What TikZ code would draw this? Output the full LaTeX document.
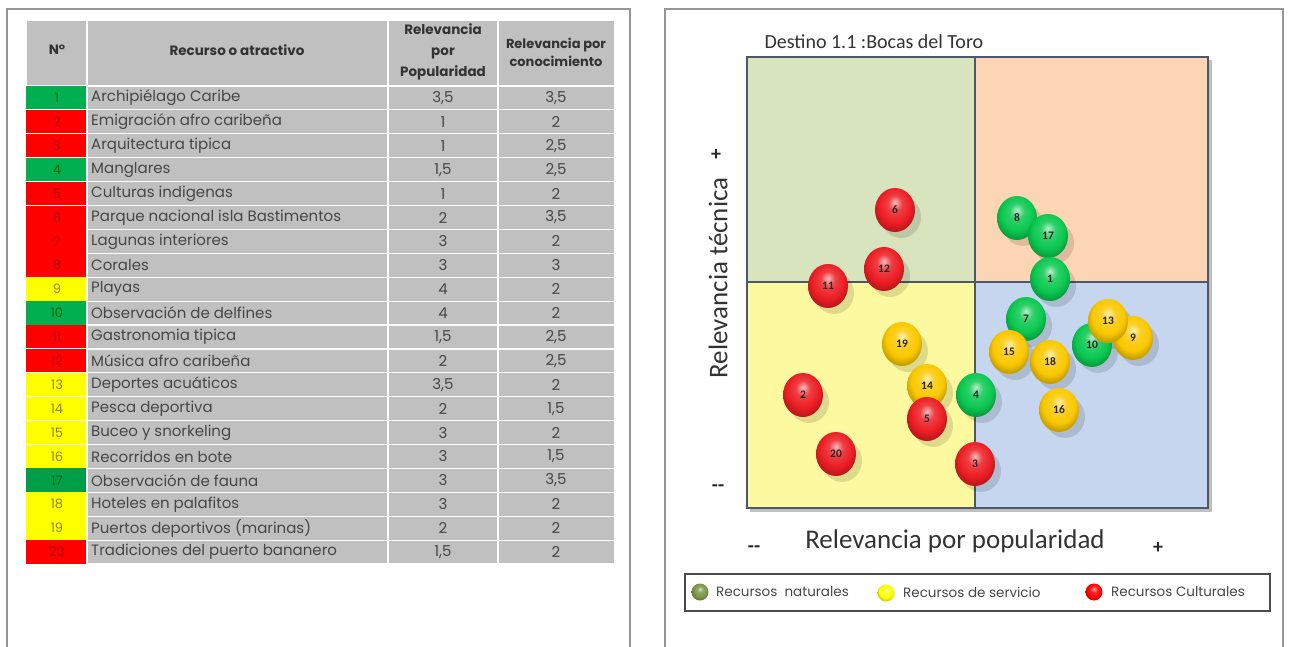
\documentclass[tikz,border=0pt]{standalone}
\usepackage{fontspec}
\setmainfont{Carlito}
\newfontfamily\tabfont{Poppins}
\usepackage{tikz}

\definecolor{cellgray}{RGB}{192,192,192}
\definecolor{txtgray}{RGB}{70,70,70}
\definecolor{framegray}{RGB}{150,150,150}
\definecolor{cgreen}{RGB}{0,176,80}
\definecolor{cdgreen}{RGB}{0,158,72}
\definecolor{cred}{RGB}{255,0,0}
\definecolor{cyellow}{RGB}{255,255,0}
\definecolor{qtl}{RGB}{215,228,189}
\definecolor{qtr}{RGB}{252,213,181}
\definecolor{qbl}{RGB}{252,249,160}
\definecolor{qbr}{RGB}{197,214,238}
\definecolor{boxline}{RGB}{75,88,105}
\definecolor{bred}{RGB}{236,30,36}
\definecolor{bgreen}{RGB}{10,200,80}
\definecolor{byellow}{RGB}{250,200,0}
\definecolor{lgreen}{RGB}{120,150,70}

\makeatletter
\pgfdeclareradialshading[tikz@ball]{glossy}{\pgfqpoint{0bp}{9bp}}{%
  color(0bp)=(tikz@ball!30!white); color(9bp)=(tikz@ball!85!white);
  color(20bp)=(tikz@ball); color(27bp)=(tikz@ball!80!black);
  color(50bp)=(tikz@ball!80!black)}
\makeatother

\tikzset{
  cell/.style={fill=cellgray, draw=white, line width=1.2pt},
  rowtxt/.style={font=\tabfont\fontsize{15}{17}\selectfont, text=txtgray, inner sep=0pt},
  hdrtxt/.style={font=\tabfont\bfseries\fontsize{13.5}{21}\selectfont, text=black!80, align=center, inner sep=0pt},
  numtxt/.style={font=\tabfont\fontsize{13}{15}\selectfont, inner sep=0pt},
  balltxt/.style={font=\bfseries\fontsize{11.5}{12}\selectfont, text=black!85, inner sep=0pt},
  legtxt/.style={font=\tabfont\fontsize{13.5}{15}\selectfont, text=txtgray, anchor=west, inner sep=0pt},
  axtxt/.style={font=\fontsize{27}{30}\selectfont, text=black!80},
  signo/.style={font=\bfseries\fontsize{20}{22}\selectfont, text=black!85}
}

\begin{document}
\begin{tikzpicture}[x=1pt,y=-1pt]
  \useasboundingbox (0,0) rectangle (1289,647);
  % panel frames
  \draw[framegray, line width=1.5pt] (7,647) -- (7,9) -- (630,9) -- (630,647);
  \draw[framegray, line width=1.5pt] (665,647) -- (665,9) -- (1283,9) -- (1283,647);

  % table header
  \draw[cell] (26,20) rectangle (87,86);
  \draw[cell] (87,20) rectangle (388,86);
  \draw[cell] (388,20) rectangle (498,86);
  \draw[cell] (498,20) rectangle (615,86);
  \node[hdrtxt] (hnum) at (57,50) {N°};
  \node[hdrtxt] (hrec) at (237,50) {Recurso o atractivo};
  \node[hdrtxt] (hpop) at (443,52) {Relevancia\\por\\Popularidad};
  \node[hdrtxt, font=\tabfont\bfseries\fontsize{13}{18}\selectfont] (hcon) at (556,52) {Relevancia por\\conocimiento};

  % table rows
  \foreach \i/\name/\pop/\con/\col/\tcol in {
    1/Archipiélago Caribe/{3,5}/{3,5}/cgreen/green!40!black,
    2/Emigración afro caribeña/1/2/cred/red!70!black,
    3/Arquitectura tipica/1/{2,5}/cred/red!70!black,
    4/Manglares/{1,5}/{2,5}/cgreen/green!40!black,
    5/Culturas indigenas/1/2/cred/red!70!black,
    6/Parque nacional isla Bastimentos/2/{3,5}/cred/red!70!black,
    7/Lagunas interiores/3/2/cred/red!70!black,
    8/Corales/3/3/cred/red!70!black,
    9/Playas/4/2/cyellow/olive,
    10/Observación de delfines/4/2/cgreen/green!40!black,
    11/Gastronomia tipica/{1,5}/{2,5}/cred/red!70!black,
    12/Música afro caribeña/2/{2,5}/cred/red!70!black,
    13/Deportes acuáticos/{3,5}/2/cyellow/olive,
    14/Pesca deportiva/2/{1,5}/cyellow/olive,
    15/Buceo y snorkeling/3/2/cyellow/olive,
    16/Recorridos en bote/3/{1,5}/cyellow/olive,
    17/Observación de fauna/3/{3,5}/cdgreen/green!40!black,
    18/Hoteles en palafitos/3/2/cyellow/olive,
    19/Puertos deportivos (marinas)/2/2/cyellow/olive,
    20/Tradiciones del puerto bananero/{1,5}/2/cred/red!70!black} {
    \pgfmathsetmacro\ytop{86+(\i-1)*23.9}
    \pgfmathsetmacro\ybot{\ytop+23.9}
    \pgfmathsetmacro\ymid{\ytop+12}
    \fill[\col] (26,\ytop) rectangle (87,\ybot);
    \draw[white, line width=1pt] (26,\ybot) -- (87,\ybot);
    \draw[cell] (87,\ytop) rectangle (388,\ybot);
    \draw[cell] (388,\ytop) rectangle (498,\ybot);
    \draw[cell] (498,\ytop) rectangle (615,\ybot);
    \node[numtxt, text=\tcol] (n\i) at (57,\ymid) {\i};
    \node[rowtxt, anchor=west] (r\i) at (91,\ymid) {\name};
    \node[rowtxt] (p\i) at (443,\ymid) {\pop};
    \node[rowtxt] (c\i) at (556,\ymid) {\con};
  }

  % matrix
  \fill[black!25] (750,60) rectangle (1212,512);
  \fill[qtl] (747,57) rectangle (975,282);
  \fill[qtr] (975,57) rectangle (1208,282);
  \fill[qbl] (747,282) rectangle (975,508);
  \fill[qbr] (975,282) rectangle (1208,508);
  \draw[boxline, line width=2pt] (747,57) rectangle (1208,508);
  \draw[boxline, line width=1.5pt] (975,57) -- (975,508);
  \draw[boxline, line width=1.5pt] (747,282) -- (1208,282);

  \node[font=\fontsize{20}{22}\selectfont, text=black!80, anchor=west] (titulo) at (761,42) {Destino 1.1 :Bocas del Toro};
  \node[axtxt, rotate=90] (ylab) at (718,278) {Relevancia técnica};
  \node[axtxt] (xlab) at (955,541) {Relevancia por popularidad};
  \node[signo] (ymas) at (716,155) {+};
  \node[signo] (ymenos) at (718,488) {-{}-};
  \node[signo] (xmenos) at (754,549) {-{}-};
  \node[signo] (xmas) at (1158,548) {+};

  % balls: shadows first, then balls
  \foreach \n/\x/\y/\c in {6/895/210/bred, 8/1017/218/bgreen, 17/1048/236/bgreen,
    12/884/269/bred, 11/828/286/bred, 1/1050/279/bgreen, 7/1026/319/bgreen,
    9/1133/338/byellow, 10/1092/345/bgreen, 13/1108/321/byellow, 19/902/344/byellow,
    15/1009/352/byellow, 18/1050/362/byellow, 14/927/386/byellow, 5/927/419/bred,
    4/976/395/bgreen, 2/803/395/bred, 16/1059/410/byellow, 20/836/454/bred, 3/975/464/bred} {
    \fill[black, opacity=.12] (\x+6,\y+7) ellipse (20 and 21);
  }
  \foreach \n/\x/\y/\c in {6/895/210/bred, 8/1017/218/bgreen, 17/1048/236/bgreen,
    12/884/269/bred, 11/828/286/bred, 1/1050/279/bgreen, 7/1026/319/bgreen,
    9/1133/338/byellow, 10/1092/345/bgreen, 13/1108/321/byellow, 19/902/344/byellow,
    15/1009/352/byellow, 18/1050/362/byellow, 14/927/386/byellow, 5/927/419/bred,
    4/976/395/bgreen, 2/803/395/bred, 16/1059/410/byellow, 20/836/454/bred, 3/975/464/bred} {
    \shade[ball color=\c, shading=glossy] (\x,\y) ellipse (20 and 22);
    \node[balltxt] (b\n) at (\x,\y) {\n};
  }

  % legend
  \draw[black!70, line width=1.5pt] (685,574) rectangle (1270,611);
  \shade[ball color=lgreen, shading=glossy] (700,592) circle (8.5);
  \shade[ball color=yellow, shading=glossy] (886,593) circle (8.5);
  \shade[ball color=red, shading=glossy] (1094,592) circle (8.5);
  \node[legtxt] (lnat) at (716,592) {Recursos\ \ naturales};
  \node[legtxt] (lser) at (903,592) {Recursos de servicio};
  \node[legtxt] (lcul) at (1111,592) {Recursos Culturales};
\end{tikzpicture}
\end{document}
